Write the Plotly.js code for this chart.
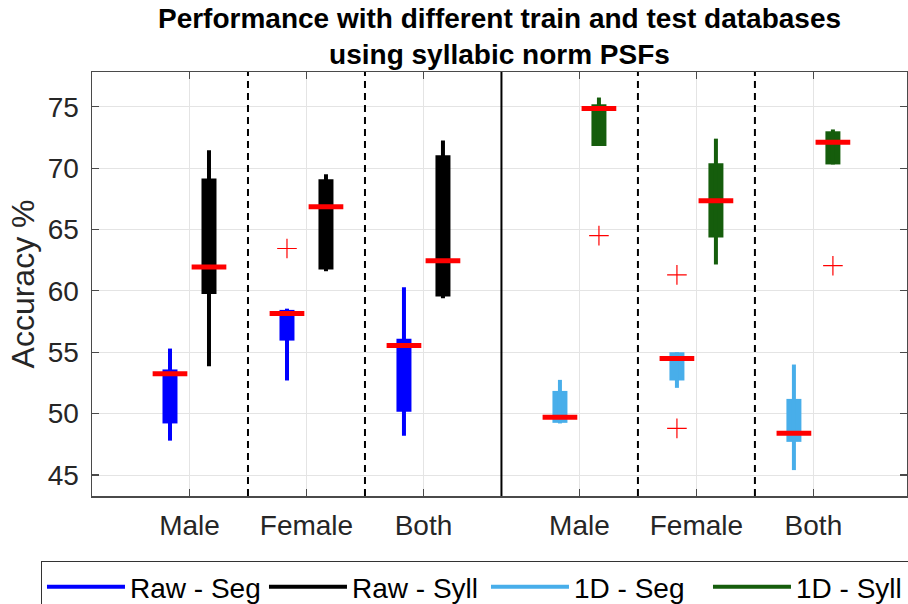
<!DOCTYPE html>
<html>
<head>
<meta charset="utf-8">
<script src="https://cdn.plot.ly/plotly-3.0.1.min.js"></script>
<style>
  html, body { margin: 0; padding: 0; background: #fff; }
  #chart { width: 908px; height: 604px; }
</style>
</head>
<body>
<div id="chart"></div>
<script>
// Test sets (one box per training variant in each)
const groups = ['Male', 'Female', 'Both'];
const tickLabels = ['Male', 'Female', 'Both', 'Male', 'Female', 'Both'];

// Raw features - segmental
const rawSegLow  = [47.8, 52.7, 48.2];
const rawSegQ1   = [49.2, 55.95, 50.15];
const rawSegMed  = [53.25, 58.15, 55.55];
const rawSegQ3   = [53.6, 58.45, 56.1];
const rawSegHigh = [55.3, 58.55, 60.3];
const rawSegOut  = [[], [63.45], []];

// Raw features - syllabic
const rawSyllLow  = [53.85, 61.6, 59.4];
const rawSyllQ1   = [59.75, 61.75, 59.55];
const rawSyllMed  = [61.95, 66.85, 62.45];
const rawSyllQ3   = [69.15, 69.1, 71.05];
const rawSyllHigh = [71.45, 69.5, 72.25];
const rawSyllOut  = [[], [], []];

// 1D features - segmental
const d1SegLow  = [49.2, 52.1, 45.4];
const d1SegQ1   = [49.25, 52.7, 47.7];
const d1SegMed  = [49.7, 54.5, 48.4];
const d1SegQ3   = [51.85, 55.0, 51.2];
const d1SegHigh = [52.75, 55.0, 54.0];
const d1SegOut  = [[], [61.3, 48.8], []];

// 1D features - syllabic
const d1SyllLow  = [71.8, 62.15, 70.3];
const d1SyllQ1   = [71.8, 64.35, 70.3];
const d1SyllMed  = [74.85, 67.35, 72.1];
const d1SyllQ3   = [75.2, 70.4, 73.0];
const d1SyllHigh = [75.75, 72.4, 73.15];
const d1SyllOut  = [[64.5], [], [62.05]];

// Layout of the category axis: two blocks of three pairs
const rawCenters = [1.5, 4.5, 7.5];
const d1Centers = [11.5, 14.5, 17.5];
const pairOffset = 0.5;
const groupSeparators = [3, 6, 13, 16];
const blockSeparator = 9.5;

const medianColor = '#ff0000';
const font = '"Liberation Sans", Arial, Helvetica, sans-serif';

const series = [
  { name: 'Raw - Seg',  color: '#0000ff', centers: rawCenters, side: -1,
    low: rawSegLow, q1: rawSegQ1, med: rawSegMed, q3: rawSegQ3, high: rawSegHigh, out: rawSegOut },
  { name: 'Raw - Syll', color: '#000000', centers: rawCenters, side: 1,
    low: rawSyllLow, q1: rawSyllQ1, med: rawSyllMed, q3: rawSyllQ3, high: rawSyllHigh, out: rawSyllOut },
  { name: '1D - Seg',   color: '#48aeea', centers: d1Centers, side: -1,
    low: d1SegLow, q1: d1SegQ1, med: d1SegMed, q3: d1SegQ3, high: d1SegHigh, out: d1SegOut },
  { name: '1D - Syll',  color: '#155d0c', centers: d1Centers, side: 1,
    low: d1SyllLow, q1: d1SyllQ1, med: d1SyllMed, q3: d1SyllQ3, high: d1SyllHigh, out: d1SyllOut }
];

const whiskerTraces = [], boxTraces = [], medianTraces = [], outlierTraces = [];

series.forEach(s => {
  const pos = s.centers.map(c => c + s.side * pairOffset);
  const wx = [], wy = [], bx = [], by = [], mx = [], my = [], ox = [], oy = [];
  pos.forEach((p, i) => {
    wx.push(p, p, null); wy.push(s.low[i], s.high[i], null);
    bx.push(p, p, null); by.push(s.q1[i], s.q3[i], null);
    mx.push(p - 0.445, p + 0.445, null); my.push(s.med[i], s.med[i], null);
    s.out[i].forEach(v => { ox.push(p); oy.push(v); });
  });
  whiskerTraces.push({
    type: 'scatter', mode: 'lines', name: s.name, x: wx, y: wy,
    line: { color: s.color, width: 4 }, hoverinfo: 'skip', showlegend: true
  });
  boxTraces.push({
    type: 'scatter', mode: 'lines', name: s.name, x: bx, y: by,
    line: { color: s.color, width: 15 }, hoverinfo: 'skip', showlegend: false
  });
  medianTraces.push({
    type: 'scatter', mode: 'lines', x: mx, y: my,
    line: { color: medianColor, width: 5 }, hoverinfo: 'skip', showlegend: false
  });
  outlierTraces.push({
    type: 'scatter', mode: 'markers', x: ox, y: oy,
    marker: { symbol: 'cross-thin-open', size: 14, color: medianColor,
              line: { color: medianColor, width: 1.2 } },
    hoverinfo: 'skip', showlegend: false
  });
});

const shapes = groupSeparators.map(x => ({
  type: 'line', xref: 'x', yref: 'paper', x0: x, x1: x, y0: 0, y1: 1,
  line: { color: '#000', width: 2, dash: '7px,5px' }, layer: 'above'
}));
shapes.push({
  type: 'line', xref: 'x', yref: 'paper', x0: blockSeparator, x1: blockSeparator, y0: 0, y1: 1,
  line: { color: '#000', width: 2 }, layer: 'above'
});

const axisCommon = {
  showline: true, linecolor: '#4a4a4a', linewidth: 1.5, mirror: 'allticks',
  ticks: 'inside', ticklen: 7, tickcolor: '#4a4a4a', tickwidth: 1.2,
  showgrid: true, gridcolor: '#e4e4e4', gridwidth: 1, zeroline: false,
  tickfont: { family: font, size: 28, color: '#262626' }
};

const layout = {
  width: 908, height: 604,
  margin: { l: 92, r: 1, t: 72, b: 108, autoexpand: false },
  paper_bgcolor: '#ffffff', plot_bgcolor: '#ffffff',
  font: { family: font, color: '#262626' },
  title: {
    text: 'Performance with different train and test databases<br>using syllabic norm PSFs',
    font: { family: font, size: 28, color: '#000', weight: 'bold' },
    x: 0.5, xref: 'paper', xanchor: 'center',
    y: 0.954, yref: 'container', yanchor: 'top'
  },
  xaxis: Object.assign({}, axisCommon, {
    range: [-1, 19.9],
    tickmode: 'array', tickvals: rawCenters.concat(d1Centers), ticktext: tickLabels,
    ticklabelstandoff: 4
  }),
  yaxis: Object.assign({}, axisCommon, {
    range: [43.29, 77.83],
    tickmode: 'array', tickvals: [45, 50, 55, 60, 65, 70, 75],
    ticklabelstandoff: 6,
    title: { text: 'Accuracy %', font: { family: font, size: 32, color: '#262626' }, standoff: 3 }
  }),
  shapes: shapes,
  showlegend: true,
  legend: {
    orientation: 'h',
    x: -0.0626, xanchor: 'left',
    y: -0.1533, yanchor: 'top',
    bordercolor: '#333', borderwidth: 1, bgcolor: '#fff',
    font: { family: font, size: 28, color: '#000' },
    itemwidth: 78, entrywidth: 129, entrywidthmode: 'pixels', traceorder: 'normal'
  }
};

const traces = boxTraces.concat(whiskerTraces, medianTraces, outlierTraces);
Plotly.newPlot('chart', traces, layout, { staticPlot: true, displayModeBar: false });
</script>
</body>
</html>
